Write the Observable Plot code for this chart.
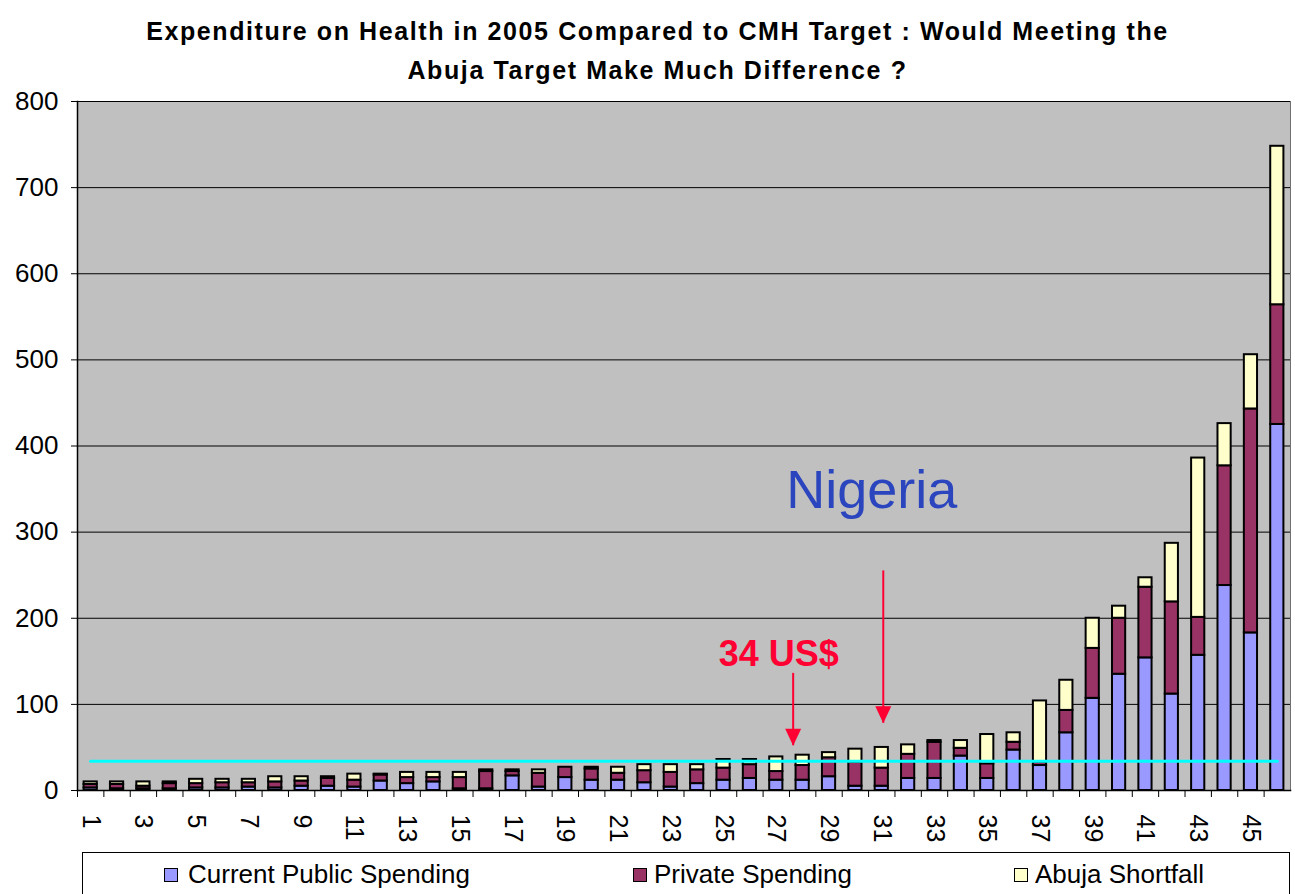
<!DOCTYPE html>
<html><head><meta charset="utf-8">
<script src="https://cdn.jsdelivr.net/npm/d3@7"></script>
<script src="https://cdn.jsdelivr.net/npm/@observablehq/plot@0.6"></script>
<style>
body{margin:0;background:#fff;font-family:"Liberation Sans",Arial,sans-serif;}
#wrap{position:relative;width:1295px;height:894px;overflow:hidden;background:#fff;}
#title{position:absolute;left:0;top:0;width:1295px;height:88px;text-align:center;font-weight:bold;font-size:25px;letter-spacing:1.6px;line-height:39px;padding-top:12px;padding-left:20px;box-sizing:border-box;color:#000;}
#chart{position:absolute;left:0;top:88px;}
#legend{position:absolute;left:82px;top:852px;width:1208px;height:50px;border:1px solid #000;box-sizing:border-box;background:#fff;}
.sw{position:absolute;top:15px;width:14px;height:14px;border:1.5px solid #000;box-sizing:border-box;}
.lt{position:absolute;top:6px;font-size:26px;line-height:30px;white-space:nowrap;color:#000;}
</style></head>
<body>
<div id="wrap">
  <div id="title">Expenditure on Health in 2005 Compared to CMH Target : Would Meeting the<br>Abuja Target Make Much Difference ?</div>
  <div id="chart"></div>
  <div id="legend"></div>
</div>
<script>
// ---- data ----
const categories = d3.range(1, 47).map(String);
const seriesNames = ["Current Public Spending", "Private Spending", "Abuja Shortfall"];
const seriesColors = ["#9999FF", "#993366", "#FFFFCC"];
const publicSpending = [3,2,2,2,3,3,4,3,5,5,4,11,8,10,2,2,17,4,15,12,12,9,4,8,12,14,12,12,16,5,5,14,14,40,14,47,29,67,107,135,154,112,157,238,183,425];
const privateSpending = [4,5,3,6,5,6,5,7,6,9,8,7,7,5,13,20,5,16,12,13,8,14,17,16,14,16,10,17,22,28,21,28,42,9,17,9,4,26,58,65,82,107,44,139,260,139];
const abujaShortfall = [3,3,5,2,5,4,4,6,5,2,7,1,6,6,6,2,2,4,0,2,7,7,9,6,10,6,17,12,6,15,24,11,2,9,34,11,71,35,35,14,11,68,185,49,63,184];
const cmhTarget = 34;
const yTicks = [0,100,200,300,400,500,600,700,800];
const xTickLabels = categories.filter((d, i) => i % 2 === 0);
// annotations (category, values)
const usArrow = {cat: "28", top: 136, tip: 52, label: "34 US$", labelY: 158};
const ngArrow = {cat: "31", top: 255, tip: 78, label: "Nigeria", labelY: 348};

const seriesValues = [publicSpending, privateSpending, abujaShortfall];
const table = [];
categories.forEach((c, i) => seriesNames.forEach((s, j) => table.push({cat: c, series: s, value: seriesValues[j][i]})));
const targetLine = [{cat: categories[0], value: cmhTarget}, {cat: categories[categories.length - 1], value: cmhTarget}];

const W = 1295, H = 764, mL = 77, mR = 5, mT = 13, mB = 62;
const step = (W - mL - mR) / categories.length;
const red = "#FF0033";
const headDown = {draw(ctx) { ctx.moveTo(0, 0); ctx.lineTo(-8, -17); ctx.lineTo(8, -17); ctx.closePath(); }};

const chart = Plot.plot({
  width: W, height: H,
  marginLeft: mL, marginRight: mR, marginTop: mT, marginBottom: mB,
  style: {fontFamily: '"Liberation Sans", Arial, sans-serif', background: "transparent", color: "#000", overflow: "visible"},
  x: {domain: categories, paddingInner: 0.5, paddingOuter: 0.25, round: false, axis: null},
  y: {domain: [0, 800], axis: null},
  color: {domain: seriesNames, range: seriesColors},
  marks: [
    Plot.frame({fill: "#C0C0C0", stroke: "#707070"}),
    Plot.ruleY(yTicks, {stroke: "#000", strokeWidth: 1}),
    Plot.barY(table, {x: "cat", y: "value", fill: "series", order: seriesNames, stroke: "#000", strokeWidth: 2}),
    Plot.lineY(targetLine, {x: "cat", y: "value", stroke: "#00FFFF", strokeWidth: 3}),
    Plot.ruleX([usArrow], {x: "cat", y1: "top", y2: "tip", dx: -9.5, stroke: red, strokeWidth: 2}),
    Plot.dot([usArrow], {x: "cat", y: "tip", dx: -9.5, symbol: headDown, fill: red, stroke: null}),
    Plot.text([usArrow], {x: "cat", y: "labelY", text: "label", dx: -24, fill: red, fontSize: 36, fontWeight: "bold", textAnchor: "middle", lineAnchor: "middle"}),
    Plot.ruleX([ngArrow], {x: "cat", y1: "top", y2: "tip", dx: 1.5, stroke: red, strokeWidth: 2}),
    Plot.dot([ngArrow], {x: "cat", y: "tip", dx: 1.5, symbol: headDown, fill: red, stroke: null}),
    Plot.text([ngArrow], {x: "cat", y: "labelY", text: "label", dx: -10, fill: "#2A45BE", fontSize: 54, textAnchor: "middle", lineAnchor: "middle"}),
    Plot.axisY({ticks: yTicks, tickSize: 6, tickPadding: 13, fontSize: 26, label: null}),
    Plot.axisX({ticks: categories, tickSize: 7, text: null, dx: -step / 2, label: null}),
    Plot.axisX({ticks: xTickLabels, tickSize: 0, tickRotate: 90, tickPadding: 24, fontSize: 25, label: null}),
    Plot.frame({anchor: "left", stroke: "#000", strokeWidth: 1.5}),
    Plot.frame({anchor: "bottom", stroke: "#000", strokeWidth: 1.5})
  ]
});
document.getElementById("chart").appendChild(chart);

// legend
const legend = document.getElementById("legend");
const swLeft = [81, 550, 931];
const txLeft = [105, 571, 952];
seriesNames.forEach((s, i) => {
  const sw = document.createElement("div");
  sw.className = "sw"; sw.style.left = swLeft[i] + "px"; sw.style.background = seriesColors[i];
  const t = document.createElement("div");
  t.className = "lt"; t.style.left = txLeft[i] + "px"; t.textContent = s;
  legend.appendChild(sw); legend.appendChild(t);
});
</script>
</body></html>
